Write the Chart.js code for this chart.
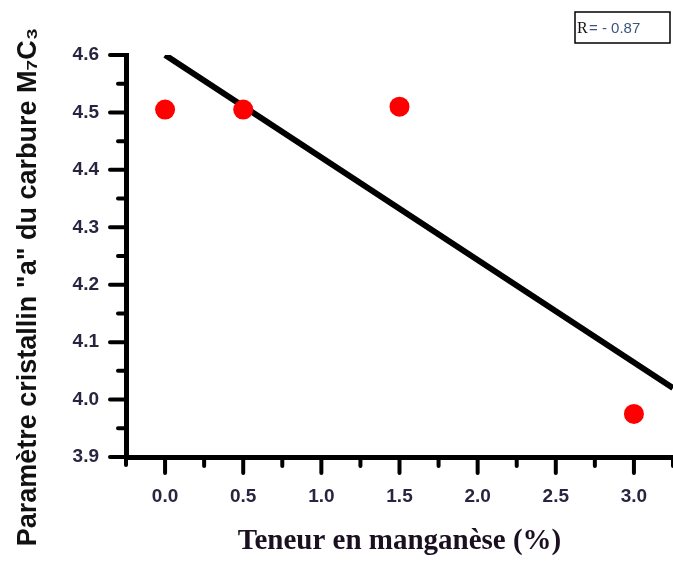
<!DOCTYPE html>
<html>
<head>
<meta charset="utf-8">
<script src="https://cdn.jsdelivr.net/npm/chart.js@4"></script>
<style>
  html, body { margin: 0; padding: 0; background: #fff; }
  #wrap { width: 673px; height: 563px; position: relative; }
</style>
</head>
<body>
<div id="wrap"><canvas id="mnChart"></canvas></div>
<script>
// data
const manganese = [0, 0.5, 1.5, 3.0];
const latticeA = [4.505, 4.505, 4.51, 3.975];
const fitX = [0, 3.25];
const fitY = [4.6, 4.02];
const xTickValues = [0, 0.5, 1.0, 1.5, 2.0, 2.5, 3.0];
const yTickValues = [3.9, 4.0, 4.1, 4.2, 4.3, 4.4, 4.5, 4.6];
const rLabel = '= - 0.87';

const AXIS_W = 126;
const AXIS_H = 106;

// minor + major ticks drawn outward, plus y title and the R box
const decorPlugin = {
    id: 'decor',
    afterDraw(chart) {
        const c = chart.ctx;
        const xs = chart.scales.x, ys = chart.scales.y;
        const area = chart.chartArea;
        c.save();
        c.strokeStyle = '#000';
        c.lineWidth = 4;
        c.lineCap = 'round';
        c.beginPath();
        for (let v = 0; v <= 3.25; v += 0.25) {
            const px = xs.getPixelForValue(v);
            const len = (Math.round(v * 4) % 2 === 0) ? 16 : 9;
            c.moveTo(px, area.bottom);
            c.lineTo(px, area.bottom + len);
        }
        for (let i = 0; i <= 14; i++) {
            const v = 3.9 + i * 0.05;
            const py = ys.getPixelForValue(v);
            const len = (i % 2 === 0) ? 16 : 8;
            c.moveTo(area.left, py);
            c.lineTo(area.left - len, py);
        }
        c.moveTo(area.left, area.bottom);
        c.lineTo(area.left, area.bottom + 8);
        c.stroke();

        // y title
        c.fillStyle = '#111';
        c.font = 'bold 27px "Liberation Sans", Arial, sans-serif';
        c.textAlign = 'center';
        c.textBaseline = 'middle';
        c.translate(29, 287);
        c.rotate(-Math.PI / 2);
        c.fillText('Paramètre cristallin "a" du carbure M\u2087C\u2083', 0, 0);
        c.restore();

        // R box
        c.save();
        c.strokeStyle = '#000';
        c.lineWidth = 1.5;
        c.strokeRect(575, 12, 95, 31);
        c.textBaseline = 'middle';
        c.fillStyle = '#111';
        c.font = '16px "Liberation Serif", serif';
        c.fillText('R', 577, 29);
        c.fillStyle = '#3a5580';
        c.font = '15px "Liberation Sans", Arial, sans-serif';
        c.fillText(rLabel, 589, 29);
        c.restore();
    }
};

const ctx = document.getElementById('mnChart').getContext('2d');

new Chart(ctx, {
    type: 'scatter',
    data: {
        datasets: [
            {
                label: 'fit',
                data: fitX.map((x, i) => ({ x: x, y: fitY[i] })),
                showLine: true,
                borderColor: '#000',
                borderWidth: 6,
                pointRadius: 0,
                order: 2
            },
            {
                label: 'points',
                data: manganese.map((x, i) => ({ x: x, y: latticeA[i] })),
                backgroundColor: '#ff0000',
                borderColor: '#ff0000',
                borderWidth: 0,
                pointRadius: 10,
                order: 1
            }
        ]
    },
    options: {
        responsive: true,
        maintainAspectRatio: false,
        animation: false,
        layout: { autoPadding: false, padding: { top: 55, right: 0, left: 0, bottom: 0 } },
        plugins: {
            legend: { display: false },
            tooltip: { enabled: false }
        },
        scales: {
            x: {
                type: 'linear',
                min: -0.25,
                max: 3.25,
                afterBuildTicks: (scale) => {
                    scale.ticks = xTickValues.map(v => ({ value: v }));
                },
                afterFit: (scale) => {
                    scale.height = AXIS_H;
                    scale.paddingRight = 0;
                    scale.paddingLeft = 0;
                },
                grid: { display: false, drawTicks: false },
                border: { display: true, color: '#000', width: 5 },
                ticks: {
                    padding: 28,
                    color: '#2a2440',
                    font: { family: '"Liberation Sans", Arial, sans-serif', size: 19, weight: 'bold' },
                    callback: (v) => Number(v).toFixed(1)
                },
                title: {
                    display: true,
                    text: 'Teneur en manganèse (%)',
                    color: '#1a1020',
                    font: { family: '"Liberation Serif", "Times New Roman", serif', size: 29, weight: 'bold' },
                    padding: { top: 8 }
                }
            },
            y: {
                min: 3.9,
                max: 4.6,
                afterBuildTicks: (scale) => {
                    scale.ticks = yTickValues.map(v => ({ value: v }));
                },
                afterFit: (scale) => {
                    scale.width = AXIS_W;
                    scale.paddingTop = 0;
                    scale.paddingBottom = 0;
                },
                grid: { display: false, drawTicks: false },
                border: { display: true, color: '#000', width: 5 },
                ticks: {
                    padding: 27,
                    color: '#2a2440',
                    font: { family: '"Liberation Sans", Arial, sans-serif', size: 19, weight: 'bold' },
                    callback: (v) => Number(v).toFixed(1)
                }
            }
        }
    },
    plugins: [decorPlugin]
});
</script>
</body>
</html>
